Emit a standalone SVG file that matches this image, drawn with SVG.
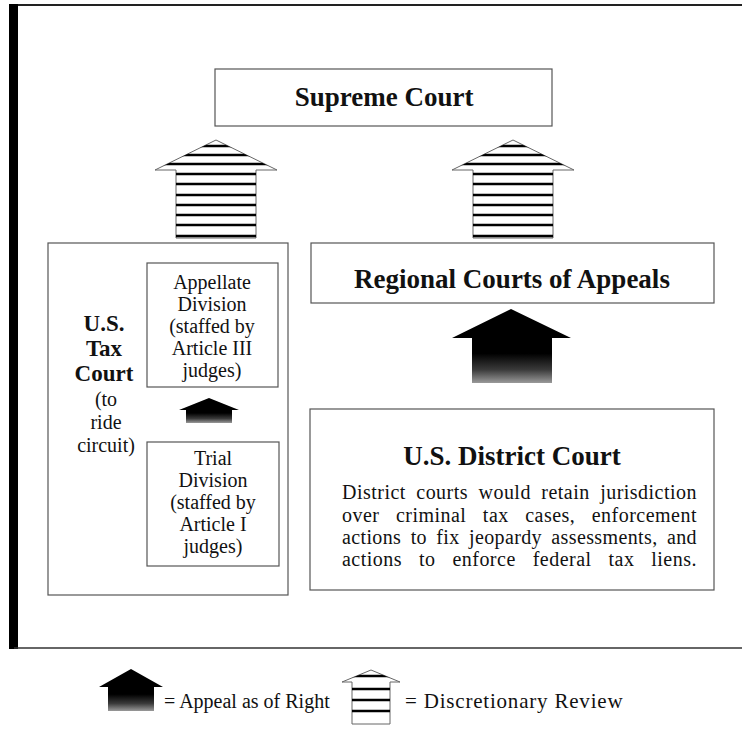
<svg xmlns="http://www.w3.org/2000/svg" width="742" height="729" viewBox="0 0 742 729">
<style>
text { font-family: "Liberation Serif", "Times New Roman", serif; fill: #111; }
.h { font-weight: bold; font-size: 27px; text-anchor: middle; }
.tx { font-weight: bold; font-size: 23px; text-anchor: middle; }
.b { font-size: 20px; text-anchor: middle; }
.body { font-size: 20px; letter-spacing: 0.5px; }
.leg { font-size: 20px; }
.box { fill: none; stroke: #555; stroke-width: 1.2; }
.stripe { stroke: #000; stroke-width: 2.3; }
.hout { fill: #fff; stroke: #666; stroke-width: 1; }
.solid { fill: url(#solidGrad); }
</style>
<defs>
  <linearGradient id="solidGrad" x1="0" y1="0" x2="0" y2="1">
    <stop offset="0" stop-color="#000"/>
    <stop offset="0.6" stop-color="#000"/>
    <stop offset="0.82" stop-color="#3a3a3a"/>
    <stop offset="1" stop-color="#9a9a9a"/>
  </linearGradient>
  <clipPath id="hclip">
    <path d="M0,0 L61,30 L40,30 L40,98 L-40,98 L-40,30 L-61,30 Z"/>
  </clipPath>
  <clipPath id="lclip">
    <path d="M371,670 L400,682 L390,682 L390,724 L352,724 L352,682 L342,682 Z"/>
  </clipPath>
  <g id="hatch">
    <path class="hout" d="M0,0 L61,30 L40,30 L40,98 L-40,98 L-40,30 L-61,30 Z"/>
    <g clip-path="url(#hclip)" class="stripe">
      <line x1="-62" y1="6" x2="62" y2="6"/>
      <line x1="-62" y1="15" x2="62" y2="15"/>
      <line x1="-62" y1="24" x2="62" y2="24"/>
      <line x1="-62" y1="34" x2="62" y2="34"/>
      <line x1="-62" y1="44" x2="62" y2="44"/>
      <line x1="-62" y1="55" x2="62" y2="55"/>
      <line x1="-62" y1="65" x2="62" y2="65"/>
      <line x1="-62" y1="75" x2="62" y2="75"/>
      <line x1="-62" y1="85" x2="62" y2="85"/>
      <line x1="-62" y1="96" x2="62" y2="96"/>
    </g>
  </g>
</defs>

<g id="frame">
  <line x1="10" y1="5" x2="742" y2="5" stroke="#222" stroke-width="2"/>
  <rect x="9" y="4" width="9" height="645" fill="#000"/>
  <line x1="14" y1="648" x2="742" y2="648" stroke="#333" stroke-width="1.5"/>
</g>

<g id="supreme-court">
  <rect class="box" x="215" y="69" width="337" height="57"/>
  <text class="h" x="384" y="106">Supreme Court</text>
</g>

<g id="tax-court">
  <rect class="box" x="48" y="243" width="240" height="352"/>
  <text class="tx" x="104" y="331">U.S.</text>
  <text class="tx" x="104" y="356">Tax</text>
  <text class="tx" x="104" y="381">Court</text>
  <text class="b" x="106" y="406">(to</text>
  <text class="b" x="106" y="429">ride</text>
  <text class="b" x="106" y="452">circuit)</text>
</g>

<g id="appellate-division">
  <rect class="box" x="147" y="263" width="131" height="124"/>
  <text class="b" x="212" y="289">Appellate</text>
  <text class="b" x="212" y="311">Division</text>
  <text class="b" x="212" y="333">(staffed by</text>
  <text class="b" x="212" y="355">Article III</text>
  <text class="b" x="212" y="377">judges)</text>
</g>

<g id="trial-division">
  <rect class="box" x="147" y="442" width="132" height="124"/>
  <text class="b" x="213" y="465">Trial</text>
  <text class="b" x="213" y="487">Division</text>
  <text class="b" x="213" y="509">(staffed by</text>
  <text class="b" x="213" y="531">Article I</text>
  <text class="b" x="213" y="553">judges)</text>
</g>

<g id="regional-courts">
  <rect class="box" x="311" y="243" width="403" height="60"/>
  <text class="h" x="512" y="288">Regional Courts of Appeals</text>
</g>

<g id="district-court">
  <rect class="box" x="310" y="409" width="404" height="181"/>
  <text class="h" x="512" y="465">U.S. District Court</text>
  <text class="body" x="342" y="499" word-spacing="5" textLength="355" lengthAdjust="spacing">District courts would retain jurisdiction</text>
  <text class="body" x="342" y="521.5" word-spacing="11" textLength="355" lengthAdjust="spacing">over criminal tax cases, enforcement</text>
  <text class="body" x="342" y="544" word-spacing="4" textLength="355" lengthAdjust="spacing">actions to fix jeopardy assessments, and</text>
  <text class="body" x="342" y="566" word-spacing="11.4" textLength="355" lengthAdjust="spacing">actions to enforce federal tax liens.</text>
</g>

<g id="connectors">
  <use href="#hatch" x="216" y="140"/>
  <use href="#hatch" x="513" y="140"/>
  <path class="solid" d="M511,309 L571,338 L552,338 L552,383 L472,383 L472,338 L452,338 Z"/>
  <path class="solid" d="M209,398 L239,410 L232,410 L232,423 L186,423 L186,410 L179,410 Z"/>
</g>

<g id="legend">
  <path class="solid" d="M131,669 L163,687 L154,687 L154,711 L108,711 L108,687 L99,687 Z"/>
  <text class="leg" x="164" y="708">= Appeal as of Right</text>
  <path class="hout" d="M371,670 L400,682 L390,682 L390,724 L352,724 L352,682 L342,682 Z"/>
  <g clip-path="url(#lclip)" class="stripe">
    <line x1="340" y1="676" x2="402" y2="676"/>
    <line x1="340" y1="689" x2="402" y2="689"/>
    <line x1="340" y1="700" x2="402" y2="700"/>
    <line x1="340" y1="711" x2="402" y2="711"/>
  </g>
  <text x="405" y="708" font-size="21" letter-spacing="0.8">= Discretionary Review</text>
</g>
</svg>
